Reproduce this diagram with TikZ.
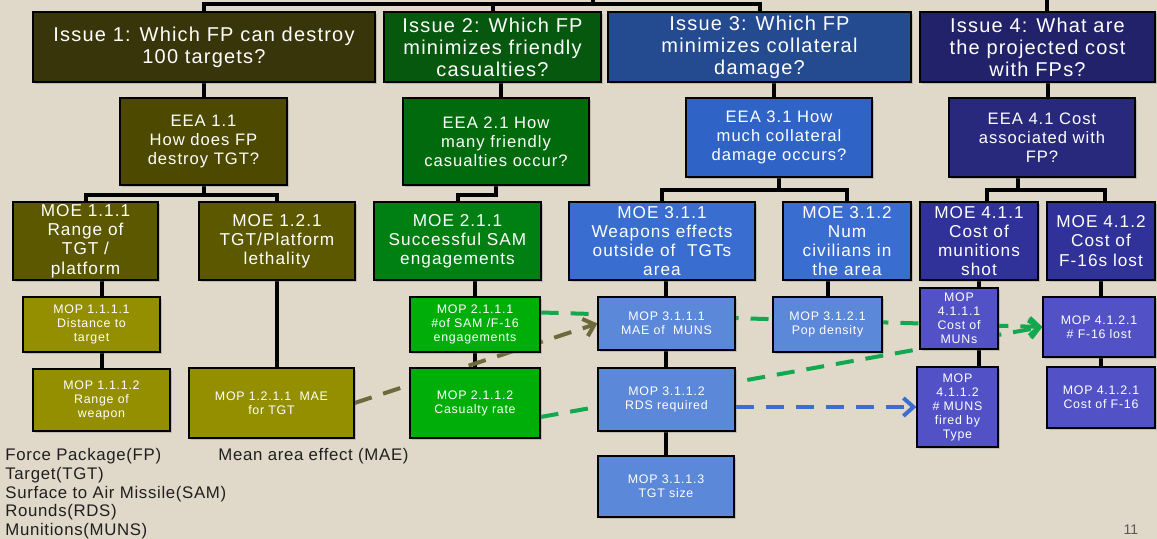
\documentclass[tikz,border=0pt]{standalone}
\usepackage{fontspec}
\setmainfont{Liberation Sans}
\newfontfamily\boxfont[LetterSpace=6]{Liberation Sans}
\newfontfamily\notefont[LetterSpace=4]{Liberation Sans}
\usetikzlibrary{arrows.meta,shadows}
\definecolor{bgbeige}{HTML}{E0D9C9}
\definecolor{issA}{HTML}{39350A}
\definecolor{eeaA}{HTML}{4D4A00}
\definecolor{moeA}{HTML}{5C5800}
\definecolor{mopA}{HTML}{948F00}
\definecolor{issB}{HTML}{05580E}
\definecolor{eeaB}{HTML}{006A0C}
\definecolor{moeB}{HTML}{007F12}
\definecolor{mopB}{HTML}{00AE0A}
\definecolor{issC}{HTML}{244A90}
\definecolor{eeaC}{HTML}{2F63C6}
\definecolor{moeC}{HTML}{3A6DD0}
\definecolor{mopC}{HTML}{5B88D8}
\definecolor{issD}{HTML}{22226A}
\definecolor{eeaD}{HTML}{28297C}
\definecolor{moeD}{HTML}{31319A}
\definecolor{mopD}{HTML}{5252C6}
\definecolor{linkA}{HTML}{6E693C}
\definecolor{linkB}{HTML}{12A850}
\definecolor{linkC}{HTML}{3C6ED2}
\pgfdeclarelayer{back}
\pgfdeclarelayer{links}
\pgfsetlayers{back,links,main}

\begin{document}
\begin{tikzpicture}[x=0.5pt,y=-0.5pt,
  box/.style={draw=black, line width=0.6pt, text=white, align=center, inner sep=0pt,
    drop shadow={shadow xshift=1.2pt, shadow yshift=-1.2pt, opacity=0.35}},
  issue/.style={box, font=\boxfont\fontsize{10}{11}\selectfont},
  eea/.style={box, font=\boxfont\fontsize{8.3}{9.5}\selectfont},
  moe/.style={box, font=\boxfont\fontsize{8.6}{9.6}\selectfont},
  mop/.style={box, font=\boxfont\fontsize{6.2}{7}\selectfont},
  wh/.style 2 args={minimum width=#1pt, minimum height=#2pt},
  tree/.style={line width=2pt},
  link/.style={line width=2pt, dash pattern=on 9pt off 6pt, -{Straight Barb[length=5pt,width=9pt]}},
  legend/.style={align=left, inner sep=0pt, text=black!88, font=\notefont\fontsize{8.4}{9.4}\selectfont}]
\useasboundingbox (0,0) rectangle (1157,539);
\begin{pgfonlayer}{back}
\fill[bgbeige] (0,0) rectangle (1157,539);
\end{pgfonlayer}

\node[issue, fill=issA, wh={171}{35}] (iss1) at (204,47) {Issue 1: Which FP can destroy\\100 targets?};
\node[issue, fill=issB, wh={108.5}{35}] (iss2) at (492.5,47) {Issue 2: Which FP\\minimizes friendly\\casualties?};
\node[issue, fill=issC, wh={151.5}{35}] (iss3) at (759.5,47) {Issue 3: Which FP\\minimizes collateral\\damage?};
\node[issue, fill=issD, wh={117.5}{35}] (iss4) at (1037.5,47) {Issue 4: What are\\the projected cost\\with FPs?};

\node[eea, fill=eeaA, wh={83.5}{43.5}] (eea1) at (203.5,141.5) {EEA 1.1\\How does FP\\destroy TGT?};
\node[eea, fill=eeaB, wh={93}{43.5}] (eea2) at (496,141.5) {EEA 2.1 How\\many friendly\\casualties occur?};
\node[eea, fill=eeaC, wh={93}{39.5}] (eea3) at (779,137.5) {EEA 3.1 How\\much collateral\\damage occurs?};
\node[eea, fill=eeaD, wh={93}{39.5}] (eea4) at (1042,137.5) {EEA 4.1 Cost\\associated with\\FP?};

\node[moe, fill=moeA, wh={72.5}{39}] (moe111) at (85.5,241) {MOE 1.1.1\\Range of\\TGT /\\platform};
\node[moe, fill=moeA, wh={78}{39}] (moe121) at (277,241) {MOE 1.2.1\\TGT/Platform\\lethality};
\node[moe, fill=moeB, wh={83.5}{39}] (moe211) at (457.5,241) {MOE 2.1.1\\Successful SAM\\engagements};
\node[moe, fill=moeC, wh={93}{39}] (moe311) at (662,241) {MOE 3.1.1\\Weapons effects\\outside of \ TGTs\\area};
\node[moe, fill=moeC, wh={64}{39}] (moe312) at (847,241) {MOE 3.1.2\\Num\\civilians in\\the area};
\node[moe, fill=moeD, wh={59}{39}] (moe411) at (979,241) {MOE 4.1.1\\Cost of\\munitions\\shot};
\node[moe, fill=moeD, wh={54}{39}] (moe412) at (1101,241) {MOE 4.1.2\\Cost of\\F-16s lost};

\node[mop, fill=mopA, wh={68.5}{27.5}] (mop1111) at (91.5,324.5) {MOP 1.1.1.1\\Distance to\\target};
\node[mop, fill=mopA, wh={68.5}{31}] (mop1112) at (101.5,400) {MOP 1.1.1.2\\Range of\\weapon};
\node[mop, fill=mopA, wh={82.5}{35}] (mop1211) at (271.5,403) {MOP 1.2.1.1 \ MAE\\for TGT};
\node[mop, fill=mopB, wh={65}{27.5}] (mop2111) at (475,324.5) {MOP 2.1.1.1\\\#of SAM /F-16\\engagements};
\node[mop, fill=mopB, wh={65}{35}] (mop2112) at (475,403) {MOP 2.1.1.2\\Casualty rate};
\node[mop, fill=mopC, wh={68.5}{26.5}] (mop3111) at (666.5,323.5) {MOP 3.1.1.1\\MAE of \ MUNS};
\node[mop, fill=mopC, wh={68.5}{31.5}] (mop3112) at (666.5,399.5) {MOP 3.1.1.2\\RDS required};
\node[mop, fill=mopC, wh={68}{30.5}] (mop3113) at (666,486.5) {MOP 3.1.1.3\\TGT size};
\node[mop, fill=mopC, wh={54.5}{27.5}] (mop3121) at (827.5,324.5) {MOP 3.1.2.1\\Pop density};
\node[mop, fill=mopD, wh={39}{30.5}] (mop4111) at (959,318.5) {MOP\\4.1.1.1\\Cost of\\MUNs};
\node[mop, fill=mopD, wh={40.5}{40}] (mop4112) at (957.5,407) {MOP\\4.1.1.2\\\# MUNS\\fired by\\Type};
\node[mop, fill=mopD, wh={56}{30}] (mop4121) at (1099,327) {MOP 4.1.2.1\\\# F-16 lost};
\node[mop, fill=mopD, wh={54}{30.5}] (mop4122) at (1101,397.5) {MOP 4.1.2.1\\Cost of F-16};

\node[legend, anchor=north west] (abbr) at (5,448) {Force Package(FP)\\Target(TGT)\\Surface to Air Missile(SAM)\\Rounds(RDS)\\Munitions(MUNS)};
\node[legend, anchor=north west] (mae) at (218,448) {Mean area effect (MAE)};
\node[font=\fontsize{7}{8}\selectfont, text=black!65] (pgnum) at (1131,530) {11};

\coordinate (root) at (593,0);
\coordinate (bus) at (593,4);
\coordinate (top4) at (1047,0);

\begin{pgfonlayer}{links}
\draw[tree] (root) -- (bus);
\draw[tree] (iss1.north) |- (bus) -| (iss3.north);
\draw[tree] (iss2.north) |- (bus);
\draw[tree] (top4) -- (top4 |- iss4.north);
\draw[tree] (iss1.south) -- (iss1.south |- eea1.north);
\draw[tree] ([xshift=4pt]iss2.south) -- ([xshift=4pt]iss2.south |- eea2.north);
\draw[tree] ([xshift=7pt]iss3.south) -- ([xshift=7pt]iss3.south |- eea3.north);
\draw[tree] ([xshift=5pt]iss4.south) -- ([xshift=5pt]iss4.south |- eea4.north);
\draw[tree] (eea1.south) -- ++(0,9) -| (moe111.north);
\draw[tree] (eea1.south) ++(0,9) -| (moe121.north);
\draw[tree] (eea2.south) -- ++(0,9) -| (moe211.north);
\draw[tree] (eea3.south) -- ++(0,12) -| (moe311.north);
\draw[tree] (eea3.south) ++(0,12) -| (moe312.north);
\draw[tree] ([xshift=-12pt]eea4.south) -- ++(0,12) -| ([xshift=4pt]moe411.north);
\draw[tree] ([xshift=-12pt]eea4.south) ++(0,12) -| ([xshift=2pt]moe412.north);
\draw[tree] (moe111.south -| mop1112.north) -- (mop1112.north);
\draw[tree] (moe121.south) -- (moe121.south |- mop1211.north);
\draw[tree] (moe211.south -| mop2112.north) -- (mop2112.north);
\draw[tree] (moe311.south -| mop3113.north) -- (mop3113.north);
\draw[tree] (moe312.south -| mop3121.north) -- (mop3121.north);
\draw[tree] (moe411.south) -- (moe411.south |- mop4112.north);
\draw[tree] (moe412.south) -- (moe412.south |- mop4122.north);

\draw[link, linkA] (mop1211.east) -- (mop3111.west);
\draw[link, linkB] ([yshift=6pt]mop2111.east) -- (mop4121.west);
\draw[link, linkB] ([yshift=-7pt]mop2112.east) -- (mop4121.west);
\draw[link, linkC] (mop4112.west -| mop3112.east) -- (mop4112.west);
\end{pgfonlayer}
\end{tikzpicture}
\end{document}
